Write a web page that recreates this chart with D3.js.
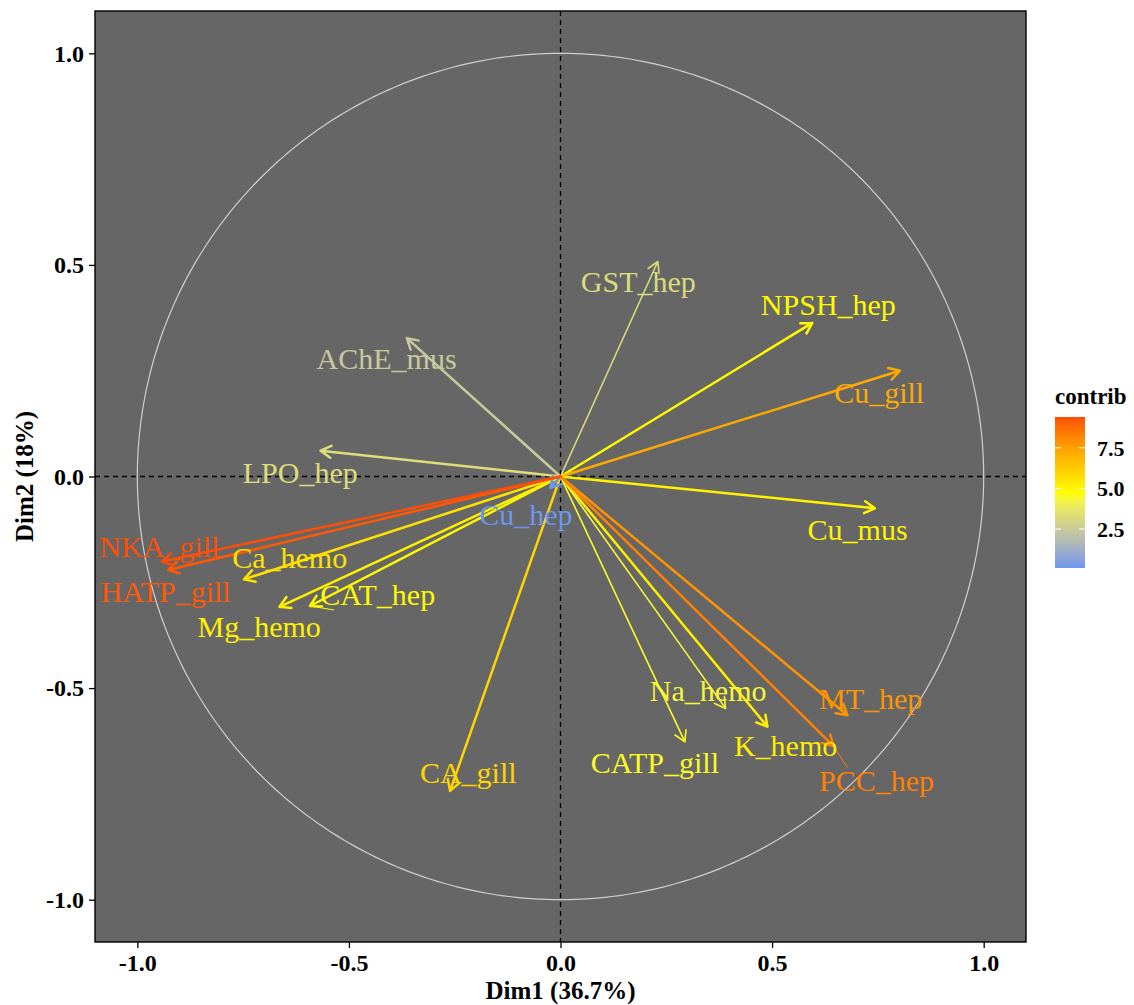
<!DOCTYPE html>
<html>
<head>
<meta charset="utf-8">
<script src="https://cdn.jsdelivr.net/npm/d3@7"></script>
<style>
  body { margin: 0; background: #ffffff; }
  text { font-family: "Liberation Serif", "Times New Roman", serif; }
</style>
</head>
<body>
<svg id="chart" width="1134" height="1005"></svg>
<script>
// PCA variables: coordinates on Dim1 / Dim2 and contribution to the plane
const variables = ["GST_hep", "NPSH_hep", "Cu_gill", "AChE_mus", "LPO_hep", "Ca_hemo", "CAT_hep",
  "Mg_hemo", "CA_gill", "Cu_hep", "Cu_mus", "Na_hemo", "K_hemo", "CATP_gill", "MT_hep", "PCC_hep",
  "HATP_gill", "NKA_gill"];
const dim1 = [0.230, 0.595, 0.802, -0.363, -0.567, -0.748, -0.592,
  -0.664, -0.261, -0.024, 0.743, 0.390, 0.489, 0.294, 0.678, 0.645,
  -0.927, -0.942];
const dim2 = [0.508, 0.363, 0.250, 0.327, 0.061, -0.243, -0.306,
  -0.308, -0.743, -0.027, -0.075, -0.548, -0.591, -0.627, -0.564, -0.637,
  -0.221, -0.201];
const contrib = [3.2, 4.9, 7.2, 2.4, 3.3, 5.6, 4.9,
  5.2, 6.0, 0.1, 5.1, 4.4, 5.3, 4.6, 7.8, 8.3,
  9.2, 9.4];

const axisTicks = [-1.0, -0.5, 0.0, 0.5, 1.0];
const legendTicks = [2.5, 5.0, 7.5];
const gradientColours = ["#6A98EE", "#FFFF00", "#FC4E07"];
const xTitle = "Dim1 (36.7%)";
const yTitle = "Dim2 (18%)";
const legendTitle = "contrib";

// Repelled label anchors, in data units
const labelPlacement = {
  GST_hep: [0.184, 0.460], NPSH_hep: [0.633, 0.404], Cu_gill: [0.753, 0.198],
  AChE_mus: [-0.411, 0.278], LPO_hep: [-0.615, 0.008], Ca_hemo: [-0.640, -0.194],
  CAT_hep: [-0.432, -0.281], Mg_hemo: [-0.712, -0.356], CA_gill: [-0.218, -0.701],
  Cu_hep: [-0.082, -0.091], Cu_mus: [0.702, -0.126], Na_hemo: [0.349, -0.507],
  K_hemo: [0.532, -0.638], CATP_gill: [0.223, -0.678], MT_hep: [0.733, -0.526],
  PCC_hep: [0.747, -0.719], HATP_gill: [-0.933, -0.273], NKA_gill: [-0.948, -0.167]
};

// Arrows drawn with a finer stroke
const thinArrows = new Set(["GST_hep", "CATP_gill", "Na_hemo"]);

const data = variables.map((name, i) => ({ name, x: dim1[i], y: dim2[i], contrib: contrib[i] }));

const svg = d3.select("#chart");
const panel = { left: 95, right: 1026, top: 11, bottom: 942 };

const x = d3.scaleLinear().domain([-1.1, 1.1]).range([panel.left, panel.right]);
const y = d3.scaleLinear().domain([-1.1, 1.1]).range([panel.bottom, panel.top]);

const cExtent = d3.extent(contrib);
const colour = d3.scaleLinear()
  .domain([cExtent[0], (cExtent[0] + cExtent[1]) / 2, cExtent[1]])
  .range(gradientColours)
  .interpolate(d3.interpolateLab);

// Panel background
svg.append("rect")
  .attr("x", panel.left).attr("y", panel.top)
  .attr("width", panel.right - panel.left).attr("height", panel.bottom - panel.top)
  .attr("fill", "#666666");

// Correlation circle
const circle = d3.line().x(t => x(Math.cos(t))).y(t => y(Math.sin(t)));
svg.append("path")
  .attr("d", circle(d3.range(0, 361).map(a => a * Math.PI / 180)))
  .attr("fill", "none").attr("stroke", "#CFCFCF").attr("stroke-width", 1.2);

// Dashed reference lines through the origin
svg.append("line")
  .attr("x1", x(0)).attr("x2", x(0)).attr("y1", panel.top).attr("y2", panel.bottom)
  .attr("stroke", "#000").attr("stroke-width", 1.3).attr("stroke-dasharray", "5,4");
svg.append("line")
  .attr("y1", y(0)).attr("y2", y(0)).attr("x1", panel.left).attr("x2", panel.right)
  .attr("stroke", "#000").attr("stroke-width", 1.3).attr("stroke-dasharray", "5,4");

// Arrows from the origin to each variable
const headLen = 12, headAngle = Math.PI / 6;
function arrowPath(d) {
  const x0 = x(0), y0 = y(0), x1 = x(d.x), y1 = y(d.y);
  const ang = Math.atan2(y1 - y0, x1 - x0);
  const a1 = ang + Math.PI - headAngle, a2 = ang + Math.PI + headAngle;
  return `M${x0},${y0}L${x1},${y1}` +
    `M${x1 + headLen * Math.cos(a1)},${y1 + headLen * Math.sin(a1)}L${x1},${y1}` +
    `L${x1 + headLen * Math.cos(a2)},${y1 + headLen * Math.sin(a2)}`;
}
svg.append("g").selectAll("path").data(data).join("path")
  .attr("d", arrowPath)
  .attr("fill", "none")
  .attr("stroke", d => colour(d.contrib))
  .attr("stroke-width", d => thinArrows.has(d.name) ? 1.6 : 2.5)
  .attr("stroke-linecap", "round")
  .attr("stroke-linejoin", "round");

// Labels, with a leader segment when a label sits away from its arrow tip
const labels = svg.append("g");
data.forEach(d => {
  const [lx, ly] = labelPlacement[d.name];
  const t = labels.append("text")
    .attr("x", x(lx)).attr("y", y(ly)).attr("dy", "0.33em")
    .attr("text-anchor", "middle")
    .attr("font-size", 30)
    .attr("fill", colour(d.contrib))
    .text(d.name);
  const b = t.node().getBBox();
  const px = x(d.x), py = y(d.y);
  const cx = Math.max(b.x, Math.min(px, b.x + b.width));
  const cy = Math.max(b.y, Math.min(py, b.y + b.height));
  const dist = Math.hypot(px - cx, py - cy);
  if (dist > 10) {
    labels.insert("line", ":first-child")
      .attr("x1", px).attr("y1", py).attr("x2", cx + 14).attr("y2", cy + 4)
      .attr("stroke", colour(d.contrib)).attr("stroke-width", 1);
  }
});

// Panel border
svg.append("rect")
  .attr("x", panel.left).attr("y", panel.top)
  .attr("width", panel.right - panel.left).attr("height", panel.bottom - panel.top)
  .attr("fill", "none").attr("stroke", "#000").attr("stroke-width", 1.4);

// Axes
const fmt = v => v.toFixed(1);
const xAxis = svg.append("g").attr("transform", `translate(0,${panel.bottom})`)
  .call(d3.axisBottom(x).tickValues(axisTicks).tickFormat(fmt).tickSize(6).tickPadding(6));
const yAxis = svg.append("g").attr("transform", `translate(${panel.left},0)`)
  .call(d3.axisLeft(y).tickValues(axisTicks).tickFormat(fmt).tickSize(6).tickPadding(5));
[xAxis, yAxis].forEach(g => {
  g.select(".domain").remove();
  g.selectAll(".tick line").attr("stroke", "#000").attr("stroke-width", 1.3);
  g.selectAll(".tick text")
    .attr("font-family", "'Liberation Serif', 'Times New Roman', serif")
    .attr("font-size", 24).attr("font-weight", "bold").attr("fill", "#000");
});

svg.append("text")
  .attr("x", (panel.left + panel.right) / 2).attr("y", 999)
  .attr("text-anchor", "middle").attr("font-size", 25).attr("font-weight", "bold")
  .text(xTitle);
svg.append("text")
  .attr("transform", `translate(33,${(panel.top + panel.bottom) / 2}) rotate(-90)`)
  .attr("text-anchor", "middle").attr("font-size", 25).attr("font-weight", "bold")
  .text(yTitle);

// Colour bar legend
const bar = { x: 1055, width: 30, top: 417, bottom: 568 };
const ly = d3.scaleLinear().domain(cExtent).range([bar.bottom, bar.top]);
const grad = svg.append("defs").append("linearGradient")
  .attr("id", "contribGradient").attr("x1", 0).attr("y1", 1).attr("x2", 0).attr("y2", 0);
d3.range(0, 1.0001, 0.05).forEach(f => {
  grad.append("stop").attr("offset", f)
    .attr("stop-color", colour(cExtent[0] + f * (cExtent[1] - cExtent[0])));
});
svg.append("rect")
  .attr("x", bar.x).attr("y", bar.top).attr("width", bar.width).attr("height", bar.bottom - bar.top)
  .attr("fill", "url(#contribGradient)");
const legendG = svg.append("g");
legendTicks.forEach(v => {
  legendG.append("line").attr("x1", bar.x).attr("x2", bar.x + 6).attr("y1", ly(v)).attr("y2", ly(v))
    .attr("stroke", "#fff").attr("stroke-width", 1);
  legendG.append("line").attr("x1", bar.x + bar.width - 6).attr("x2", bar.x + bar.width)
    .attr("y1", ly(v)).attr("y2", ly(v)).attr("stroke", "#fff").attr("stroke-width", 1);
  legendG.append("text").attr("x", bar.x + 42).attr("y", ly(v)).attr("dy", "0.35em")
    .attr("font-size", 22).attr("font-weight", "bold").attr("fill", "#000")
    .text(fmt(v));
});
svg.append("text")
  .attr("x", bar.x).attr("y", 404)
  .attr("font-size", 23).attr("font-weight", "bold").attr("fill", "#000")
  .text(legendTitle);
</script>
</body>
</html>
